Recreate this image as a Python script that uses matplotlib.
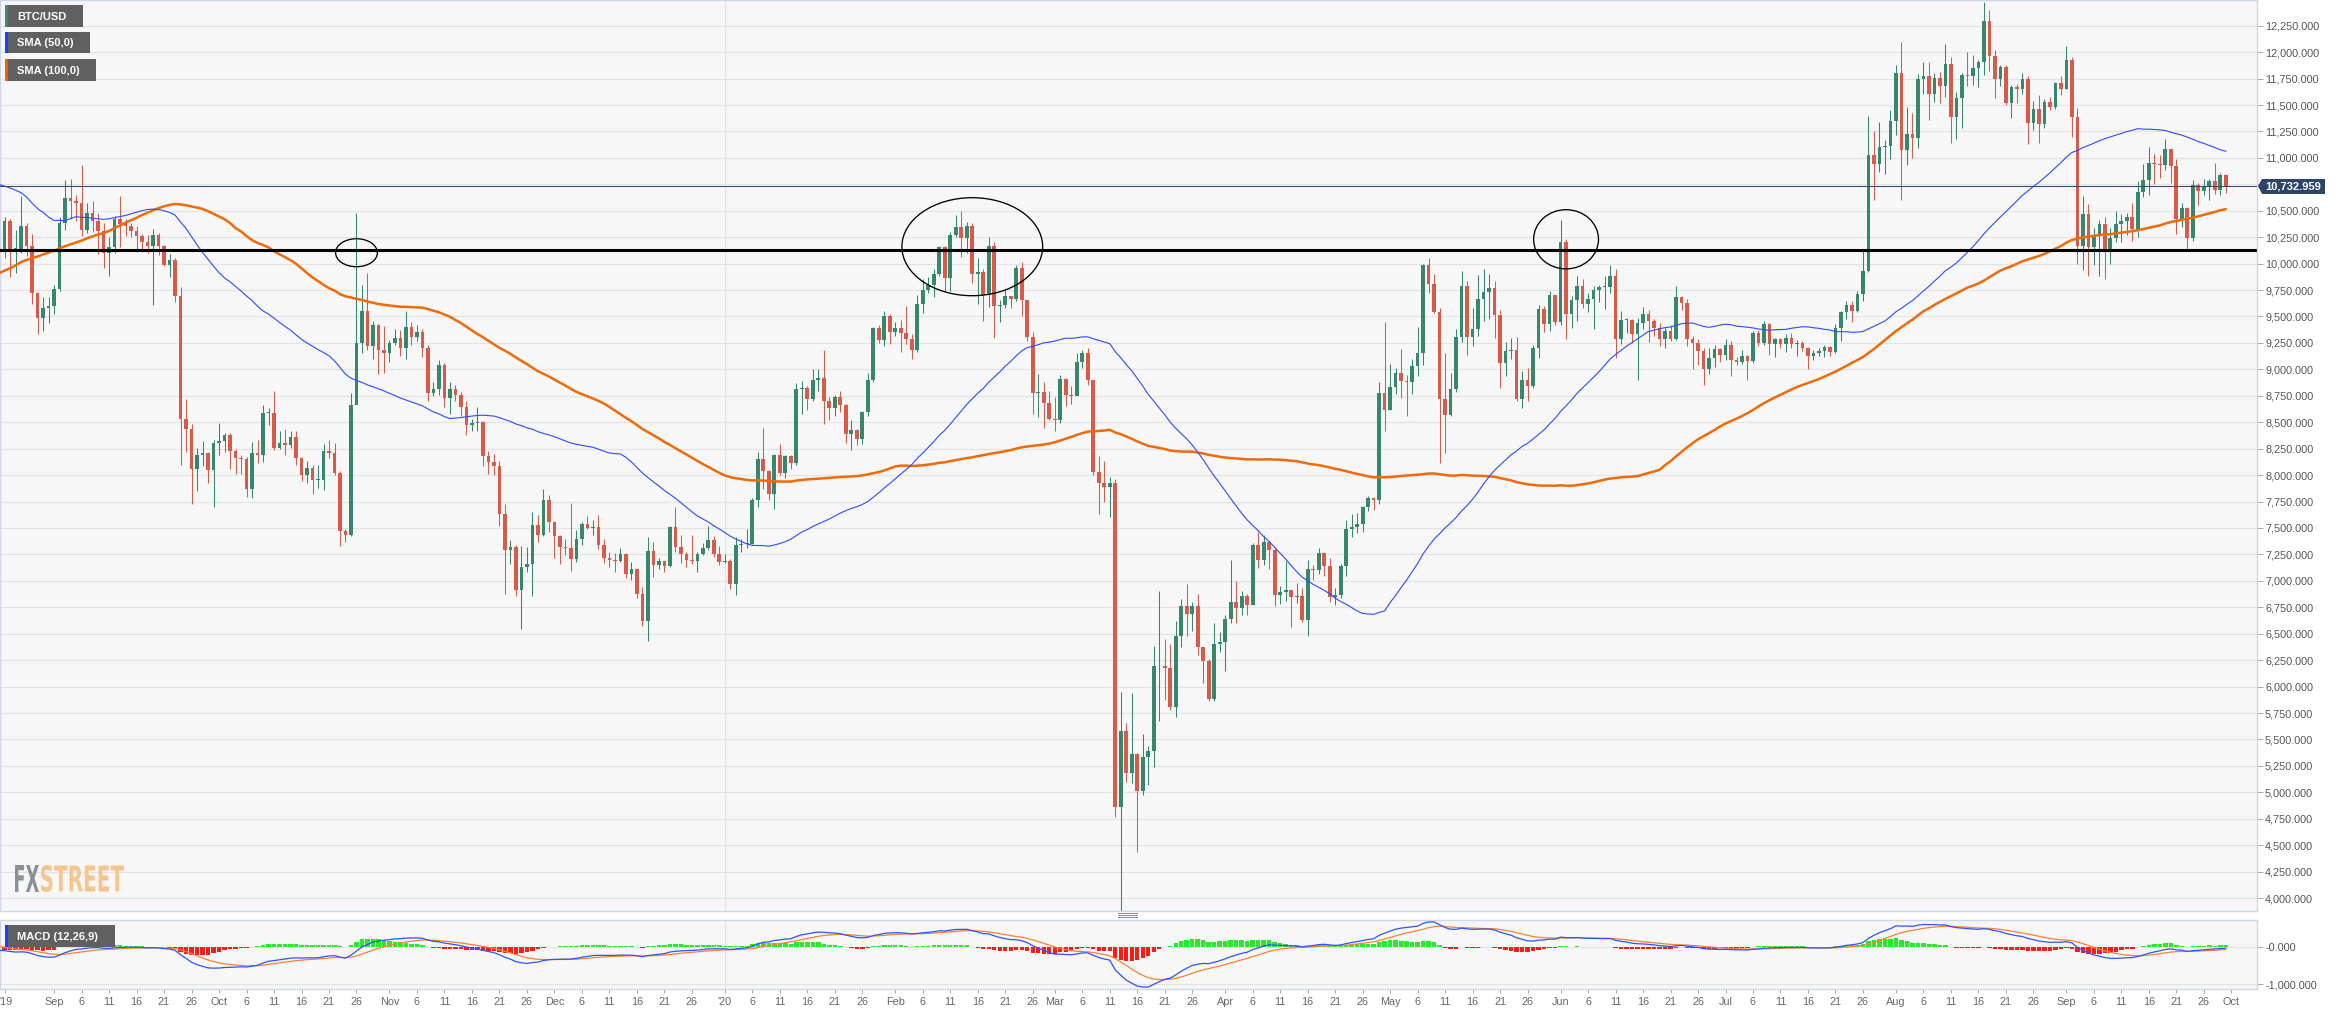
import matplotlib

matplotlib.use("Agg")
import matplotlib.pyplot as plt
import numpy as np
import pandas as pd
from matplotlib.font_manager import FontProperties
from matplotlib.patches import Ellipse, PathPatch, Polygon, Rectangle
from matplotlib.textpath import TextPath
from matplotlib.transforms import Affine2D

plt.rcParams["font.family"] = ["Liberation Sans", "DejaVu Sans"]

W, H = 2347, 1015

# closes 14 May - 21 Aug 2019, not drawn, only feed the SMA / MACD warm-up
warmup_close = [
    7990, 8210, 7880, 7350, 7260, 8190, 7980, 7950, 7630, 7880, 7990, 8050, 8670, 8800, 8720, 8660, 8270, 8550,
    8560, 8740, 8210, 7700, 7790, 7800, 8000, 7930, 7630, 8000, 7920, 8170, 8230, 8690, 8840, 8970, 9330, 9080,
    9270, 9530, 10200, 10700, 10850, 11010, 11790, 13020, 11180, 12410, 11980, 10820,
    10590, 10800, 11980, 11150, 10980, 11250, 11480, 12300, 12570, 12100, 11340, 11800, 11390, 10260, 10900, 9480,
    9700, 10650, 10530, 10760, 10590, 10330, 9910, 9850, 9890, 9850, 9480, 9530, 9500, 9590, 10090,
    10410, 10520, 10830, 10980, 11810, 11470, 11980, 11980, 11850, 11290, 11550, 11380, 10870, 10050, 10300, 10360,
    10230, 10350, 10920, 10760, 10130,
]

first_day = "2019-08-22"

# daily BTC/USD, 22 Aug 2019 - 30 Sep 2020 (open = previous close)
close = [
    # Aug 19
    10110, 10400, 10140, 10140, 10360, 10170, 9720, 9490, 9580, 9600,
    # Sep 19
    9760, 10380, 10620, 10590, 10570, 10320, 10480, 10400, 10310, 10100, 10160, 10420, 10370, 10360, 10310,
    10260, 10200, 10170, 10270, 10170, 9985, 10030, 9690, 8530, 8440, 8060, 8190, 8210, 8050, 8300,
    # Oct 19
    8320, 8380, 8230, 8160, 8150, 7870, 8210, 8190, 8590, 8590, 8260, 8300, 8280, 8360, 8160, 8000,
    8070, 7950, 7950, 8230, 8210, 8020, 7470, 7430, 8660, 9250, 9550, 9220, 9420, 9180, 9150,
    # Nov 19
    9250, 9300, 9200, 9400, 9310, 9350, 9200, 8780, 8810, 9040, 8730, 8810, 8760, 8640, 8470,
    8490, 8500, 8180, 8120, 8090, 7630, 7290, 7320, 6910, 7130, 7160, 7530, 7430, 7760, 7560,
    # Dec 19
    7420, 7320, 7310, 7210, 7400, 7540, 7500, 7510, 7340, 7220, 7200, 7190, 7250, 7060, 7110, 6880,
    6620, 7280, 7150, 7190, 7140, 7510, 7320, 7250, 7200, 7190, 7250, 7310, 7390, 7250, 7180,
    # Jan 20
    7190, 6970, 7340, 7350, 7350, 7760, 8150, 8040, 7820, 8190, 8020, 8180, 8110, 8810, 8820, 8720,
    8900, 8920, 8700, 8630, 8740, 8660, 8390, 8430, 8340, 8600, 8900, 9390, 9280, 9500, 9350,
    # Feb 20
    9390, 9340, 9290, 9180, 9620, 9750, 9800, 9900, 10160, 9860, 10270, 10350, 10240, 10360, 9900,
    9920, 9700, 10170, 9600, 9610, 9690, 9670, 9960, 9660, 9310, 8780, 8790, 8680, 8530,
    # Mar 20
    8520, 8910, 8760, 8750, 9070, 9150, 8900, 8030, 7930, 7890, 7930, 4860, 5580, 5180, 5360, 5010,
    5330, 5390, 6190, 6190, 6180, 5810, 6480, 6760, 6690, 6760, 6370, 6240, 5880, 6400, 6420,
    # Apr 20
    6640, 6800, 6740, 6860, 6770, 7340, 7200, 7370, 7290, 6870, 6890, 6910, 6850, 6860, 6630,
    7110, 7100, 7260, 7140, 6850, 6870, 7140, 7490, 7510, 7540, 7700, 7780, 7760, 8780, 8620,
    # May 20
    8830, 8970, 8890, 8880, 9030, 9150, 9990, 9810, 9540, 8720, 8570, 8810, 9310, 9790, 9310, 9380,
    9670, 9730, 9770, 9510, 9060, 9170, 9180, 8720, 8900, 8840, 9200, 9570, 9430, 9700, 9450,
    # Jun 20
    10200, 9520, 9660, 9790, 9620, 9670, 9750, 9780, 9780, 9880, 9290, 9470, 9470, 9330, 9440,
    9520, 9460, 9390, 9290, 9360, 9290, 9680, 9630, 9290, 9250, 9170, 9000, 9110, 9190, 9140,
    # Jul 20
    9230, 9090, 9070, 9130, 9080, 9340, 9250, 9430, 9240, 9290, 9240, 9300, 9240, 9250, 9200, 9130,
    9150, 9170, 9210, 9160, 9390, 9540, 9610, 9550, 9710, 9930, 11030, 10940, 11100, 11110, 11350,
    # Aug 20
    11800, 11070, 11230, 11190, 11750, 11770, 11600, 11760, 11680, 11890, 11390, 11570, 11780, 11770, 11850,
    11910, 12290, 11960, 11750, 11860, 11520, 11670, 11650, 11750, 11330, 11460, 11320, 11530, 11480, 11710, 11650,
    # Sep 20
    11930, 11390, 10170, 10470, 10160, 10260, 10370, 10130, 10240, 10370, 10400, 10440, 10330, 10680, 10790,
    10950, 10940, 10930, 11080, 10920, 10420, 10530, 10240, 10740, 10690, 10730, 10780, 10700, 10840, 10732.959,
]

high = [
    10240, 10440, 10420, 10320, 10640, 10380, 10280, 9730, 9680, 9680,
    9800, 10440, 10790, 10800, 10650, 10930, 10570, 10590, 10480, 10380, 10250, 10450, 10640, 10420, 10380,
    10360, 10280, 10270, 10330, 10290, 10180, 10090, 10050, 9780, 8720, 8480, 8260, 8320, 8220, 8330,
    8490, 8400, 8400, 8250, 8190, 8170, 8310, 8330, 8660, 8630, 8800, 8420, 8440, 8420, 8420, 8170,
    8130, 8100, 8100, 8290, 8330, 8300, 8040, 7490, 8780, 10480, 9800, 9910, 9460, 9430, 9410,
    9280, 9380, 9370, 9550, 9450, 9420, 9380, 9230, 8880, 9090, 9060, 8880, 8850, 8790, 8700,
    8530, 8640, 8510, 8230, 8200, 8130, 7730, 7390, 7340, 7330, 7320, 7650, 7620, 7870, 7810,
    7570, 7430, 7400, 7740, 7480, 7560, 7610, 7580, 7620, 7400, 7270, 7260, 7310, 7260, 7180, 7120,
    6940, 7410, 7370, 7220, 7190, 7520, 7700, 7430, 7270, 7430, 7270, 7360, 7520, 7420, 7330,
    7250, 7210, 7410, 7400, 7490, 7780, 8220, 8450, 8050, 8200, 8290, 8190, 8190, 8870, 8890, 8840,
    9000, 9000, 9180, 8740, 8760, 8800, 8670, 8520, 8440, 8610, 8970, 9400, 9420, 9550, 9520,
    9450, 9470, 9600, 9330, 9700, 9850, 9870, 9950, 10170, 10170, 10300, 10460, 10500, 10390, 10380,
    10050, 9950, 10250, 10200, 9660, 9750, 9690, 9990, 10020, 9660, 9350, 8960, 8880, 8800,
    8740, 8950, 8920, 8840, 9150, 9180, 9200, 8900, 8180, 8130, 7980, 7960, 5950, 5660, 5940, 5370,
    5550, 5440, 6380, 6900, 6450, 6400, 6620, 6830, 6970, 6800, 6880, 6280, 6260, 6600, 6520,
    6680, 7200, 7000, 6900, 6880, 7360, 7460, 7430, 7380, 7310, 6950, 7190, 6910, 6980, 6930,
    7200, 7150, 7310, 7250, 7220, 6930, 7160, 7580, 7630, 7640, 7710, 7800, 7790, 8880, 9450,
    9050, 9010, 9190, 8950, 9100, 9400, 10000, 10050, 9900, 9580, 9150, 8970, 9380, 9930, 9840, 9580,
    9890, 9950, 9900, 9840, 9560, 9260, 9300, 9310, 8980, 9010, 9230, 9610, 9600, 9740, 9700,
    10410, 10230, 9690, 9880, 9850, 9720, 9790, 9800, 9880, 9990, 9950, 9550, 9490, 9480, 9490,
    9590, 9560, 9480, 9440, 9390, 9420, 9790, 9690, 9670, 9320, 9290, 9200, 9200, 9230, 9200,
    9290, 9270, 9120, 9180, 9140, 9360, 9370, 9460, 9440, 9300, 9300, 9330, 9340, 9280, 9270, 9210,
    9180, 9200, 9230, 9220, 9430, 9550, 9650, 9650, 9740, 10140, 11400, 11250, 11340, 11170, 11450,
    11880, 12100, 11480, 11420, 11790, 11910, 11910, 11800, 11810, 12080, 11950, 11620, 11800, 12000, 11970,
    11930, 12470, 12400, 12020, 11880, 11880, 11690, 11700, 11800, 11770, 11540, 11590, 11560, 11580, 11720, 11770,
    12060, 11950, 11470, 10640, 10560, 10340, 10410, 10440, 10340, 10500, 10470, 10480, 10570, 10780, 10940,
    11100, 11040, 11030, 11180, 11070, 10990, 10570, 10540, 10790, 10760, 10800, 10800, 10950, 10860, 10850,
]

low = [
    9760, 10050, 9870, 9910, 10100, 10070, 9620, 9330, 9360, 9440,
    9520, 9740, 10320, 10420, 10400, 10260, 10290, 10300, 10090, 9960, 9880, 10100, 10160, 10260, 10250,
    10110, 10130, 10100, 9610, 10080, 9980, 9870, 9640, 8100, 8220, 7730, 7850, 8090, 7930, 7700,
    8190, 8220, 8060, 8010, 8010, 7790, 7780, 8110, 8120, 8470, 8240, 8250, 8190, 8260, 8100, 7940,
    7930, 7820, 7880, 7860, 8160, 8000, 7330, 7370, 7420, 8700, 9150, 9180, 9100, 8960, 8970,
    9070, 9230, 9130, 9100, 9230, 9270, 9120, 8700, 8750, 8760, 8640, 8580, 8700, 8560, 8380,
    8420, 8420, 8090, 8010, 8000, 7520, 6880, 7160, 6860, 6540, 7080, 6860, 7370, 7420, 7460,
    7220, 7160, 7240, 7090, 7180, 7340, 7490, 7430, 7300, 7170, 7130, 7080, 7180, 7030, 7010, 6840,
    6570, 6430, 7040, 7110, 7080, 7130, 7270, 7170, 7130, 7160, 7080, 7240, 7290, 7230, 7150,
    7170, 6920, 6870, 7270, 7310, 7350, 7700, 7870, 7760, 7680, 8000, 7970, 8060, 8100, 8580, 8620,
    8700, 8800, 8480, 8520, 8560, 8600, 8300, 8240, 8280, 8290, 8560, 8880, 9250, 9220, 9240,
    9320, 9160, 9240, 9100, 9160, 9530, 9720, 9680, 9880, 9740, 9740, 10250, 10060, 10100, 9820,
    9620, 9460, 9590, 9300, 9450, 9580, 9580, 9650, 9500, 9270, 8580, 8550, 8450, 8520,
    8420, 8490, 8650, 8670, 8760, 9010, 8850, 8000, 7630, 7750, 7600, 4770, 3850, 5100, 5090, 4440,
    4970, 5070, 5240, 5670, 5870, 5780, 5710, 6370, 6480, 6530, 6300, 6030, 5860, 5860, 6330,
    6150, 6600, 6600, 6680, 6680, 6770, 7120, 7150, 7110, 6760, 6780, 6810, 6560, 6790, 6610,
    6480, 7010, 7060, 7050, 6800, 6770, 6840, 7050, 7410, 7450, 7460, 7660, 7670, 7730, 8420,
    8620, 8770, 8730, 8560, 8770, 8940, 9040, 9720, 9530, 8110, 8210, 8560, 8790, 9260, 9140, 9220,
    9320, 9460, 9480, 9300, 8820, 8940, 9100, 8700, 8630, 8700, 8820, 9110, 9350, 9360, 9420,
    9420, 9290, 9390, 9460, 9580, 9540, 9380, 9640, 9570, 9720, 9110, 9240, 9340, 9250, 8900,
    9380, 9260, 9320, 9220, 9200, 9270, 9280, 9560, 9220, 9000, 9040, 8850, 8960, 9020, 9070,
    9090, 8940, 9040, 9050, 8900, 9060, 9220, 9230, 9140, 9120, 9200, 9160, 9200, 9130, 9170, 9000,
    9090, 9130, 9120, 9130, 9150, 9270, 9480, 9450, 9540, 9650, 9920, 10600, 10870, 10850, 10990,
    11220, 10600, 10930, 11000, 11090, 11600, 11360, 11530, 11520, 11580, 11140, 11180, 11280, 11680, 11690,
    11670, 11780, 11820, 11570, 11680, 11500, 11380, 11520, 11600, 11130, 11260, 11140, 11280, 11450, 11460, 11590,
    11650, 11200, 10000, 9940, 9880, 9990, 9880, 9850, 10000, 10200, 10200, 10270, 10210, 10250, 10630,
    10650, 10750, 10810, 10890, 10760, 10280, 10350, 10140, 10210, 10550, 10650, 10600, 10660, 10650, 10670,
]

# annotations drawn on the chart
support_level = 10130
ellipses = [  # centre day (0 = 1 Sep 2019), centre price, width days, height price
    (55.0, 10103, 7.6, 265),
    (167.0, 10160, 25.6, 927),
    (275.0, 10230, 11.8, 560),
]

GREEN = "#37876f"
RED = "#d85a4b"

# ---------------- derived series ----------------
dates = pd.date_range(first_day, periods=len(close), freq="D")
base = pd.Timestamp("2019-09-01")
d = np.array((dates - base).days, dtype=float)

c = np.array(close, dtype=float)
o = np.array([warmup_close[-1]] + close[:-1], dtype=float)
h = np.array(high, dtype=float)
l = np.array(low, dtype=float)

all_close = pd.Series(warmup_close + close, dtype=float)
n0 = len(warmup_close)
sma50 = all_close.rolling(50).mean().values[n0:]
sma100 = all_close.rolling(100).mean().values[n0:]
ema12 = all_close.ewm(span=12, adjust=False).mean()
ema26 = all_close.ewm(span=26, adjust=False).mean()
macd = ema12 - ema26
signal = macd.ewm(span=9, adjust=False).mean()
hist = (macd - signal).values[n0:]
macd = macd.values[n0:]
signal = signal.values[n0:]


def px(x, y):
    return x / W, 1 - y / H


# ---------------- figure ----------------
fig = plt.figure(figsize=(W / 100, H / 100), dpi=100, facecolor="white")
ax = fig.add_axes([0, 1 - 911 / H, 2257 / W, 911 / H])
ax2 = fig.add_axes([0, 1 - 989 / H, 2257 / W, 69 / H])

XL = (-9.84, 400.67)
border = "#cfd6e8"
for a in (ax, ax2):
    a.set_facecolor("#f7f7f7")
    a.set_xlim(*XL)
    for s in a.spines.values():
        s.set_color(border)
        s.set_linewidth(1)
    a.yaxis.tick_right()
    a.axvline(122, color="#e2e2e2", lw=0.8, zorder=0)

# main panel
ax.set_ylim(3877.7, 12493)
yt = np.arange(4000, 12251, 250)
ax.set_yticks(yt)
ax.set_yticklabels([f"{v:,.3f}" for v in yt])
ax.grid(axis="y", color="#e3e3e3", lw=0.8, zorder=0)
ax.set_xticks([])
ax.tick_params(axis="y", length=4.3, width=0.7, color="#a0a6b4",
               labelsize=7.8, labelcolor="#555555", pad=1.5)

up = c >= o
col = np.where(up, GREEN, RED)
ax.vlines(d, l, h, colors=col, lw=0.75, zorder=2)
body_lo = np.minimum(o, c)
body_h = np.maximum(np.abs(c - o), 9)
ax.bar(d, body_h, bottom=body_lo, width=0.68, color=col, lw=0, zorder=3)

ax.plot(d, sma100, color="#f06a0a", lw=1.8, zorder=4, solid_capstyle="round")
ax.plot(d, sma50, color="#2b4cff", lw=0.8, zorder=4)
ax.axhline(c[-1], color="#2c4a70", lw=0.75, zorder=4)
ax.axhline(support_level, color="black", lw=2.2, zorder=5)
for cx, cy, ew, eh in ellipses:
    ax.add_patch(Ellipse((cx, cy), ew, eh, fill=False, edgecolor="black", lw=0.95, zorder=6))

# MACD panel
ax2.set_ylim(-1134, 716)
ax2.set_yticks([-1000, 0])
ax2.set_yticklabels(["-1,000.000", "-0.000"])
ax2.grid(axis="y", color="#e3e3e3", lw=0.8, zorder=0)
ax2.tick_params(axis="y", length=4.3, width=0.7, color="#a0a6b4",
                labelsize=7.8, labelcolor="#555555", pad=1.5)
hcol = np.where(hist >= 0, "#22ee22", "#ff1a1a")
ax2.bar(d, hist, width=0.8, color=hcol, lw=0, zorder=2)
ax2.plot(d, signal, color="#ff8030", lw=0.9, zorder=3)
ax2.plot(d, macd, color="#2f52ff", lw=0.9, zorder=3)

# date ticks
tick_pos, tick_lab = [-8.9], ["'19"]
for t in pd.date_range("2019-09-01", "2020-10-01", freq="D"):
    if t.day in (1, 6, 11, 16, 21, 26):
        tick_pos.append((t - base).days)
        if t.day == 1:
            tick_lab.append("'20" if t.month == 1 else t.strftime("%b"))
        else:
            tick_lab.append(str(t.day))
ax2.set_xticks(tick_pos)
ax2.set_xticklabels(tick_lab)
ax2.tick_params(axis="x", length=3, width=0.7, color="#a0a6b4",
                labelsize=7.8, labelcolor="#666666", pad=2.5)

# ---------------- overlays in pixel space ----------------
pix = Affine2D().scale(1 / W, -1 / H).translate(0, 1) + fig.transFigure


def label_box(x0, y0, x1, y1, stripe, text):
    fig.patches.append(Rectangle((x0, y0), x1 - x0, y1 - y0, transform=pix,
                                 facecolor="#606060", edgecolor="none", zorder=10))
    fig.patches.append(Rectangle((x0, y0), 2.7, y1 - y0, transform=pix,
                                 facecolor=stripe, edgecolor="none", zorder=11))
    fig.text(*px(17, (y0 + y1) / 2 + 0.5), text, color="white", fontsize=8,
             fontweight="bold", va="center", ha="left", zorder=12)


label_box(5, 5, 83, 27, "#3b8a76", "BTC/USD")
label_box(5, 32, 90, 53, "#1a3cff", "SMA (50,0)")
label_box(5, 59, 96, 81, "#f06000", "SMA (100,0)")
label_box(5, 925, 115, 947, "#1a3cff", "MACD (12,26,9)")

# last price tag
fig.patches.append(Polygon([(2258, 186), (2262, 179), (2325, 179), (2325, 194), (2262, 194)],
                           closed=True, transform=pix, facecolor="#2b4468", edgecolor="none", zorder=10))
fig.text(*px(2293.5, 186.8), f"{c[-1]:,.3f}", color="white", fontsize=8, fontweight="bold",
         va="center", ha="center", zorder=11)

# panel resize handle
for yy in (913.5, 915.5, 917.5):
    fig.lines.append(plt.Line2D([1118, 1137], [yy, yy], transform=pix, color="#8a8a8a", lw=0.7))

# FXSTREET watermark, squeezed into its box
fp = FontProperties(family="DejaVu Sans", weight="bold")


def squeezed(txt, x0, x1, y0, y1, color):
    tp = TextPath((0, 0), txt, size=100, prop=fp)
    ext = tp.get_extents()
    sx = (x1 - x0) / ext.width
    sy = (y1 - y0) / ext.height
    tr = Affine2D().translate(-ext.x0, -ext.y0).scale(sx, -sy).translate(x0, y1)
    path = tr.transform_path(tp)
    fig.patches.append(PathPatch(path, transform=pix, facecolor=color, edgecolor="none", zorder=1))


squeezed("FX", 15, 39, 865, 892, "#8c9099")
squeezed("STREET", 41, 124, 865, 892, "#f5c58e")

fig.savefig("out.png", dpi=100, facecolor="white")
